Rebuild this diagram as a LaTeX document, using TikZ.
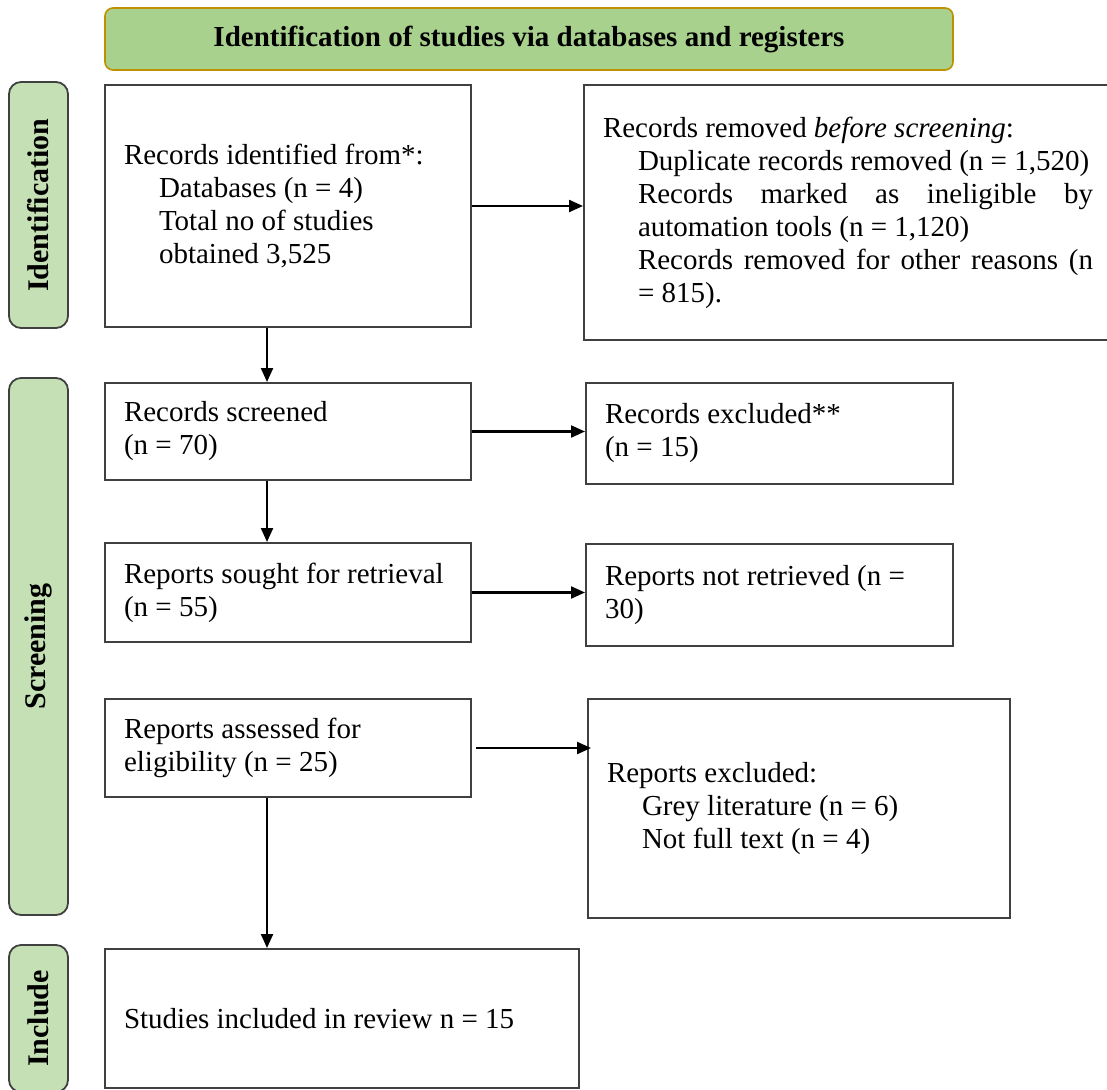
\documentclass[tikz,border=0pt]{standalone}
\usepackage{fontspec}
\setmainfont{Liberation Serif}
\usetikzlibrary{arrows.meta}
\definecolor{bannergreen}{RGB}{169,209,142}
\definecolor{bannergold}{RGB}{191,144,0}
\definecolor{sidegreen}{RGB}{197,224,180}
\definecolor{boxgray}{RGB}{64,64,64}

\begin{document}
\begin{tikzpicture}[x=1pt,y=-1pt,>={Triangle[length=14pt,width=12pt]},
    box/.style={draw=boxgray,line width=2pt,inner xsep=19pt,inner ysep=0pt,align=flush left,font=\fontsize{29}{33}\selectfont},
    sidebar/.style={draw=boxgray,line width=1.8pt,fill=sidegreen,rounded corners=12pt,rotate=90,minimum height=59pt,font=\fontsize{30}{34}\selectfont\bfseries},
    banner/.style={draw=bannergold,line width=1.6pt,fill=bannergreen,rounded corners=8pt,minimum width=848pt,minimum height=62pt,font=\fontsize{29}{34}\selectfont\bfseries},
    conn/.style={->,line width=2.2pt}]
    % \draw[help lines, gray] (0,0) grid[step=50] (1107,1089);
    \useasboundingbox (0,0) rectangle (1107,1089);
    \clip (0,0) rectangle (1107,1089);

    \node[banner] (title) at (529,39) {Identification of studies via databases and registers};

    \node[sidebar, minimum width=246pt] (ident) at (38.5,205) {Identification};
    \node[sidebar, minimum width=537pt] (screen) at (38.5,646.5) {Screening};
    \node[sidebar, minimum width=147pt] (incl) at (38.5,1018.5) {Include};

    \node[box, text width=328pt, minimum height=242pt] (found) at (288,206)
        {Records identified from*:\\
         \hspace*{35pt}Databases (n = 4)\\
         \hspace*{35pt}Total no of studies\\
         \hspace*{35pt}obtained 3,525};
    \node[box, text width=490pt, minimum height=255pt] (removed) at (848,212.5)
        {Records removed \textit{before screening}:\\
         \hspace*{35pt}Duplicate records removed (n = 1,520)\\
         \hspace*{35pt}\makebox[455pt][s]{Records marked as ineligible by}\\
         \hspace*{35pt}automation tools (n = 1,120)\\
         \hspace*{35pt}\makebox[455pt][s]{Records removed for other reasons (n}\\
         \hspace*{35pt}= 815).};

    \node[box, text width=328pt, minimum height=97pt] (screened) at (288,431.5)
        {Records screened\\(n = 70)};
    \node[box, text width=329pt, minimum height=101pt] (excl) at (769.5,433.5)
        {Records excluded**\\(n = 15)};

    \node[box, text width=328pt, minimum height=99pt] (sought) at (288,592.5)
        {Reports sought for retrieval\\(n = 55)};
    \node[box, text width=329pt, minimum height=102pt] (notret) at (769.5,595)
        {Reports not retrieved (n =\\30)};

    \node[box, text width=328pt, minimum height=98pt] (assessed) at (288,748)
        {Reports assessed for\\eligibility (n = 25)};
    \node[box, text width=384pt, minimum height=219pt] (rexcl) at (799,808.5)
        {Reports excluded:\\
         \hspace*{35pt}Grey literature (n = 6)\\
         \hspace*{35pt}Not full text (n = 4)};

    \node[box, text width=436pt, minimum height=139pt] (included) at (342,1018.5)
        {Studies included in review n = 15};

    % connectors
    \draw[conn] (found.east) -- (found.east -| removed.west);
    \draw[conn] ([xshift=-21pt]found.south) -- ([xshift=-21pt]found.south |- screened.north);
    \draw[conn] (screened.east) -- (screened.east -| excl.west);
    \draw[conn] ([xshift=-21pt]screened.south) -- ([xshift=-21pt]screened.south |- sought.north);
    \draw[conn] (sought.east) -- (sought.east -| notret.west);
    \draw[conn] ([xshift=4pt]assessed.east) -- ([xshift=4pt]assessed.east -| rexcl.west);
    \draw[conn] ([xshift=-21pt]assessed.south) -- ([xshift=-21pt]assessed.south |- included.north);
\end{tikzpicture}
\end{document}
